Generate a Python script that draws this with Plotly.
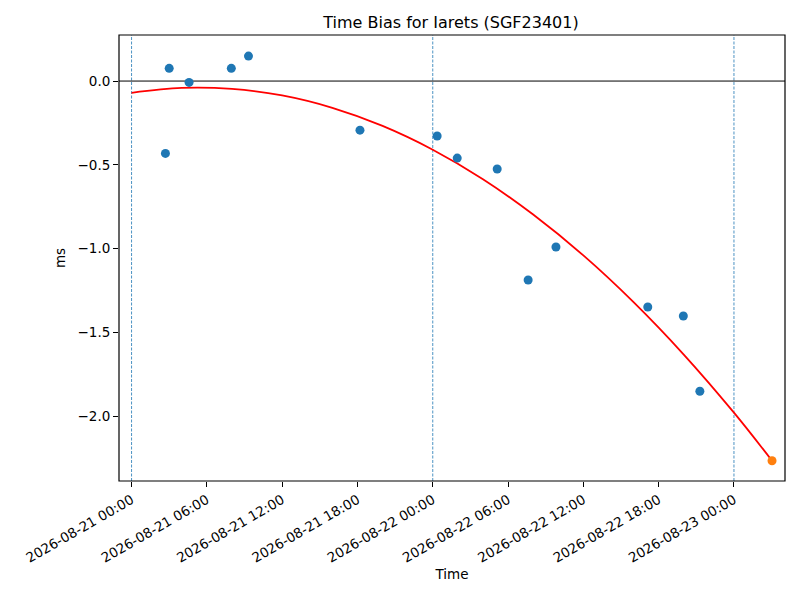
import plotly.graph_objects as go

# measured time bias samples
obs_times = [
    "2026-08-21 02:42", "2026-08-21 03:00", "2026-08-21 04:35", "2026-08-21 07:57",
    "2026-08-21 09:19", "2026-08-21 18:12", "2026-08-22 00:21", "2026-08-22 01:57",
    "2026-08-22 05:08", "2026-08-22 07:36", "2026-08-22 09:49", "2026-08-22 17:08",
    "2026-08-22 19:58", "2026-08-22 21:17",
]
obs_bias = [-0.432, 0.076, -0.008, 0.076, 0.149, -0.293, -0.328, -0.46,
            -0.525, -1.188, -0.991, -1.349, -1.403, -1.852]

# predicted point
pred_time = ["2026-08-23 03:02"]
pred_bias = [-2.267]

# fitted curve
fit_times = [
    "2026-08-21 00:00", "2026-08-21 04:00", "2026-08-21 08:00", "2026-08-21 12:00",
    "2026-08-21 16:00", "2026-08-21 20:00", "2026-08-22 00:00", "2026-08-22 04:00",
    "2026-08-22 08:00", "2026-08-22 12:00", "2026-08-22 16:00", "2026-08-22 20:00",
    "2026-08-23 00:00", "2026-08-23 03:02",
]
fit_bias = [-0.07, -0.041, -0.047, -0.086, -0.160, -0.268, -0.41, -0.586,
            -0.797, -1.041, -1.320, -1.633, -1.98, -2.267]

day_marks = ["2026-08-21 00:00", "2026-08-22 00:00", "2026-08-23 00:00"]

fnt = dict(family="DejaVu Sans", size=13.5, color="black")

# page body has an 8px margin, so the figure is sized to fit inside it
W, H = 792, 592

fig = go.Figure()
fig.add_trace(go.Scatter(x=fit_times, y=fit_bias, mode="lines", line_shape="spline",
                         line=dict(color="red", width=1.8), hoverinfo="skip"))
fig.add_trace(go.Scatter(x=obs_times, y=obs_bias, mode="markers",
                         marker=dict(color="#1f77b4", size=9)))
fig.add_trace(go.Scatter(x=pred_time, y=pred_bias, mode="markers",
                         marker=dict(color="#ff7f0e", size=9)))

for d in day_marks:
    fig.add_shape(type="line", xref="x", yref="paper", x0=d, x1=d, y0=0, y1=1,
                  line=dict(color="#1f77b4", width=0.8, dash="3px,1.5px"), layer="below")
fig.add_shape(type="line", xref="paper", yref="y", x0=0, x1=1, y0=0, y1=0,
              line=dict(color="black", width=1), layer="below")
# axes frame
fig.add_shape(type="rect", xref="paper", yref="paper", x0=0, x1=1, y0=0, y1=1,
              line=dict(color="black", width=1.2))

fig.update_layout(
    width=W, height=H,
    margin=dict(l=111, r=15, t=27, b=119),
    paper_bgcolor="white", plot_bgcolor="white",
    showlegend=False,
    font=fnt,
    title=dict(text="Time Bias for Iarets (SGF23401)", x=(451 - 8) / W, xanchor="center",
               y=1 - 14 / H, yanchor="middle", font=dict(family="DejaVu Sans", size=16)),
)
fig.update_xaxes(
    range=["2026-08-20 23:00", "2026-08-23 04:04"],
    dtick=6 * 3600 * 1000, tick0="2026-08-21 00:00", tickformat="%Y-%m-%d %H:%M",
    tickangle=-30, ticks="outside", ticklen=5, tickcolor="black", tickfont=fnt,
    showgrid=False, zeroline=False, showline=False, automargin=False,
    title=dict(text="Time", standoff=4, font=fnt),
)
fig.update_yaxes(
    range=[-2.388, 0.275], dtick=0.5, tickformat=".1f",
    ticks="outside", ticklen=5, tickcolor="black", tickfont=fnt,
    showgrid=False, zeroline=False, showline=False, automargin=False,
    title=dict(text="ms", standoff=8, font=fnt),
)

fig.write_html("out.html")
